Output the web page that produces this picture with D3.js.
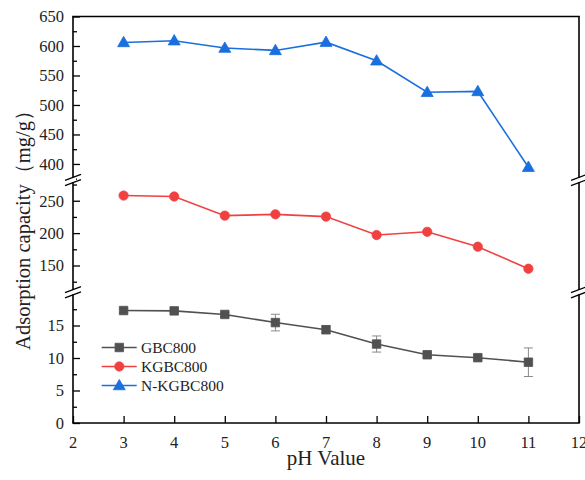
<!DOCTYPE html>
<html>
<head>
<meta charset="utf-8">
<script src="https://cdn.jsdelivr.net/npm/d3@7"></script>
<style>
  html, body { margin: 0; padding: 0; background: #fff; }
  svg { display: block; }
  text { font-family: "Liberation Serif", "Times New Roman", serif; fill: #222; }
</style>
</head>
<body>
<svg id="chart" width="585" height="480"></svg>
<script>
// ---- data ----
const pH = [3, 4, 5, 6, 7, 8, 9, 10, 11];
const gbc800 = [17.3, 17.25, 16.7, 15.45, 14.35, 12.15, 10.5, 10.05, 9.35];
const gbc800Err = [0.3, 0.3, 0.3, 1.28, 0.6, 1.24, 0.3, 0.3, 2.2];
const kgbc800 = [258, 256.5, 227, 229, 225.5, 197, 202, 179, 145];
const nkgbc800 = [606, 609, 596.5, 592.5, 606.5, 575, 521.5, 523, 394.5];
const seriesNames = ["GBC800", "KGBC800", "N-KGBC800"];
const xTicks = [2, 3, 4, 5, 6, 7, 8, 9, 10, 11, 12];
// axis segments (broken y axis)
const segDomains = [[0, 20], [110, 280], [375, 650]];
const segMajor = [[0, 5, 10, 15], [150, 200, 250], [400, 450, 500, 550, 600, 650]];
const segMinor = [[2.5, 7.5, 12.5, 17.5], [125, 175, 225, 275], [375, 425, 475, 525, 575, 625]];

// ---- layout ----
const svg = d3.select("#chart");
const pLeft = 73, pRight = 579, pTop = 16.5, pBottom = 423;
const segRanges = [[pBottom, 293], [291.4, 181.3], [178.7, pTop]];
const colors = ["#515151", "#F14040", "#1A6FDF"];

const x = d3.scaleLinear().domain([2, 12]).range([pLeft, pRight]);
const yScales = segDomains.map((d, i) => d3.scaleLinear().domain(d).range(segRanges[i]));
function y(v) {
  for (let i = 0; i < segDomains.length; i++) {
    if (v >= segDomains[i][0] - 1e-9 && v <= segDomains[i][1] + 1e-9) return yScales[i](v);
  }
  return yScales[0](v);
}

// ---- axes ----
const axG = svg.append("g");
yScales.forEach((s, i) => {
  const g = axG.append("g").attr("transform", `translate(${pLeft},0)`);
  g.call(d3.axisRight(s).tickValues(segMajor[i]).tickSize(7).tickFormat(""));
  g.append("g").call(d3.axisRight(s).tickValues(segMinor[i]).tickSize(4).tickFormat(""));
  g.selectAll(".domain").remove();
  g.selectAll("line").attr("stroke", "#000").attr("stroke-width", 1.3);
  g.selectAll(".lbl").data(segMajor[i]).enter().append("text")
    .attr("x", -9).attr("y", d => s(d)).attr("dy", "0.35em")
    .attr("text-anchor", "end").attr("font-size", 16.5).text(d => d);
  [pLeft, pRight].forEach(xx => {
    axG.append("line").attr("x1", xx).attr("x2", xx)
      .attr("y1", segRanges[i][0]).attr("y2", segRanges[i][1])
      .attr("stroke", "#000").attr("stroke-width", 1.6);
  });
});
axG.append("line").attr("x1", pLeft - 0.8).attr("x2", pRight + 0.8).attr("y1", pTop).attr("y2", pTop)
  .attr("stroke", "#000").attr("stroke-width", 1.6);
const gx = axG.append("g").attr("transform", `translate(0,${pBottom})`);
gx.call(d3.axisTop(x).tickValues(xTicks).tickSize(7).tickFormat(""));
gx.select(".domain").remove();
gx.selectAll("line").attr("stroke", "#000").attr("stroke-width", 1.3);
gx.selectAll(".xl").data(xTicks).enter().append("text")
  .attr("x", d => x(d)).attr("y", 19).attr("dy", "0.35em")
  .attr("text-anchor", "middle").attr("font-size", 16.5).text(d => d);
axG.append("line").attr("x1", pLeft - 0.8).attr("x2", pRight + 0.8).attr("y1", pBottom).attr("y2", pBottom)
  .attr("stroke", "#000").attr("stroke-width", 1.6);

// break marks
const breaks = [(segRanges[0][1] + segRanges[1][0]) / 2, (segRanges[1][1] + segRanges[2][0]) / 2];
breaks.forEach(by => {
  [pLeft, pRight].forEach(xx => {
    axG.append("rect").attr("x", xx - 3).attr("y", by - 2.2).attr("width", 6).attr("height", 4.4).attr("fill", "#fff");
    [-2.6, 2.6].forEach(off => {
      axG.append("line").attr("x1", xx - 8).attr("x2", xx + 8)
        .attr("y1", by + off + 3).attr("y2", by + off - 3)
        .attr("stroke", "#000").attr("stroke-width", 1.3);
    });
  });
});

// ---- series ----
const dataSets = [gbc800, kgbc800, nkgbc800];
const line = vals => d3.line().x((d, i) => x(pH[i])).y(d => y(d))(vals);
dataSets.forEach((vals, k) => {
  svg.append("path").attr("d", line(vals)).attr("fill", "none")
    .attr("stroke", colors[k]).attr("stroke-width", 1.6);
});
const eg = svg.append("g").attr("stroke", "#8a8a8a").attr("stroke-width", 1);
gbc800.forEach((v, i) => {
  const cx = x(pH[i]), y1 = y(v - gbc800Err[i]), y2 = y(v + gbc800Err[i]);
  eg.append("line").attr("x1", cx).attr("x2", cx).attr("y1", y1).attr("y2", y2);
  eg.append("line").attr("x1", cx - 4.5).attr("x2", cx + 4.5).attr("y1", y1).attr("y2", y1);
  eg.append("line").attr("x1", cx - 4.5).attr("x2", cx + 4.5).attr("y1", y2).attr("y2", y2);
});

const sym = [d3.symbolSquare, d3.symbolCircle, d3.symbolTriangle];
const symSize = [72, 68, 62];
function marker(g, k, cx, cy) {
  g.append("path").attr("d", d3.symbol().type(sym[k]).size(symSize[k])())
    .attr("transform", `translate(${cx},${cy + (k === 2 ? 0.8 : 0)})`)
    .attr("fill", colors[k]).attr("stroke", colors[k]).attr("stroke-width", 0.8);
}
dataSets.forEach((vals, k) => {
  const g = svg.append("g");
  vals.forEach((v, i) => marker(g, k, x(pH[i]), y(v)));
});

// ---- legend ----
const lg = svg.append("g");
const legY = [347.5, 366.5, 385.5];
seriesNames.forEach((name, k) => {
  lg.append("line").attr("x1", 101.7).attr("x2", 136.7).attr("y1", legY[k]).attr("y2", legY[k])
    .attr("stroke", colors[k]).attr("stroke-width", 1.6);
  marker(lg, k, 119.3, legY[k]);
  lg.append("text").attr("x", 141).attr("y", legY[k]).attr("dy", "0.35em")
    .attr("font-size", 15.5).text(name);
});

// ---- axis titles ----
svg.append("text").attr("x", 326).attr("y", 465).attr("text-anchor", "middle")
  .attr("font-size", 21).text("pH Value");
svg.append("text").attr("transform", "translate(30,225) rotate(-90)")
  .attr("text-anchor", "middle").attr("font-size", 20.5).text("Adsorption capacity（mg/g）");
</script>
</body>
</html>
